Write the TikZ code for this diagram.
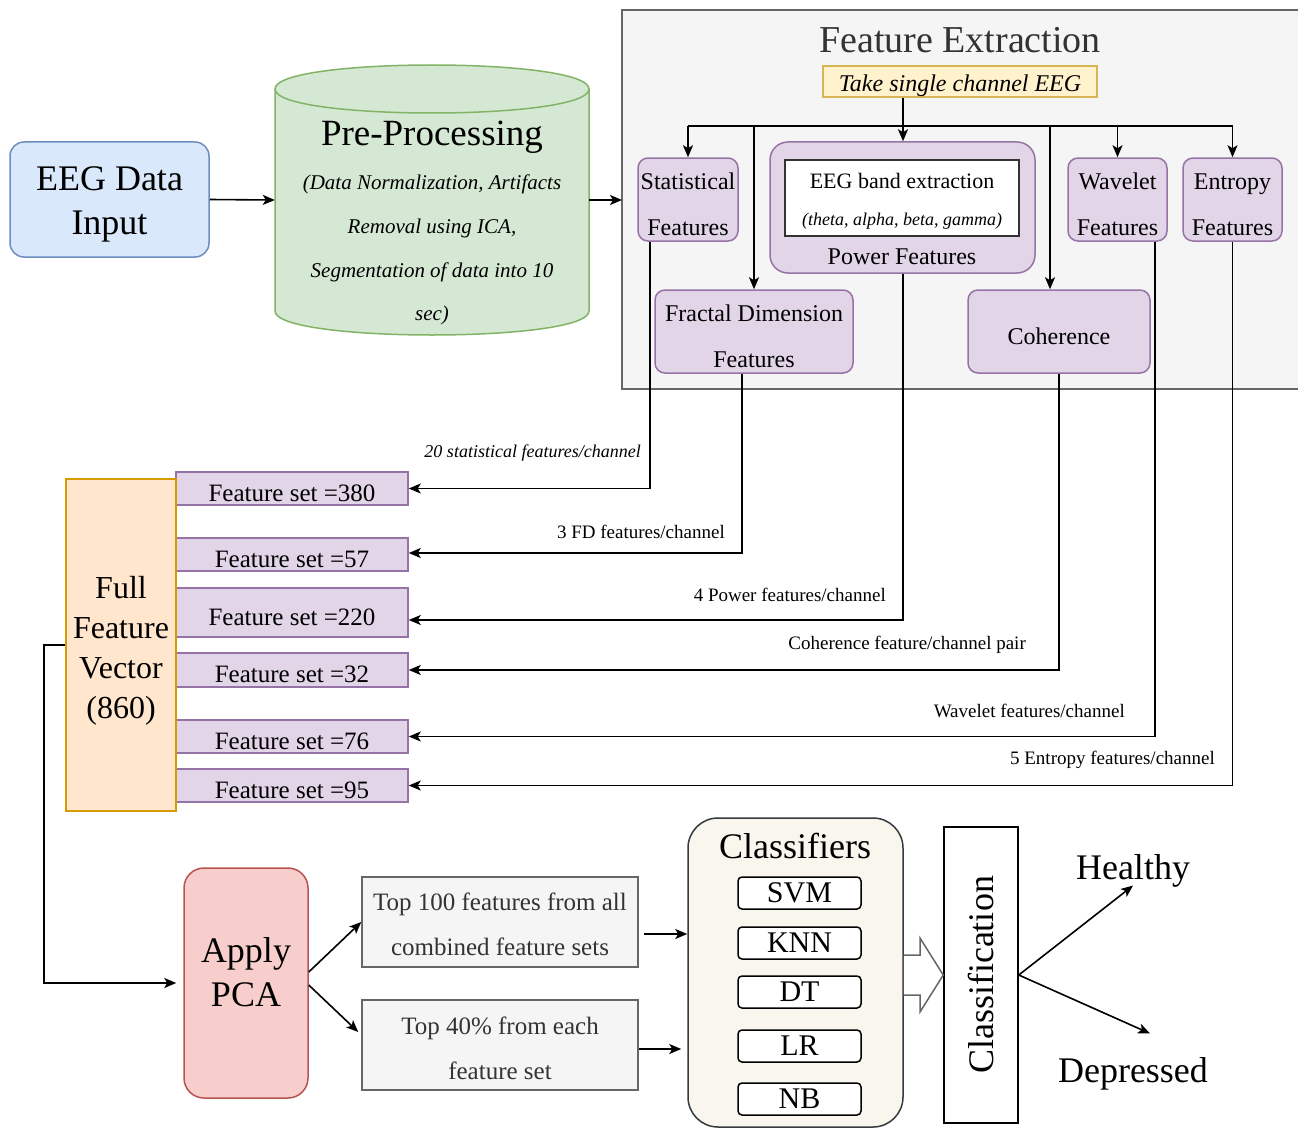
\documentclass[tikz,border=0pt]{standalone}
\usepackage{fontspec}
\setmainfont{Liberation Serif}
\usetikzlibrary{arrows.meta,calc}
\definecolor{bluef}{HTML}{DAE8FC}\definecolor{bluel}{HTML}{6C8EBF}
\definecolor{greenf}{HTML}{D5E8D4}\definecolor{greenl}{HTML}{82B366}
\definecolor{purpf}{HTML}{E1D5E7}\definecolor{purpl}{HTML}{9673A6}
\definecolor{grayf}{HTML}{F5F5F5}\definecolor{grayl}{HTML}{666666}
\definecolor{yelf}{HTML}{FFF2CC}\definecolor{yell}{HTML}{D6B656}
\definecolor{orf}{HTML}{FFE6CC}\definecolor{orl}{HTML}{D79B00}
\definecolor{redf}{HTML}{F8CECC}\definecolor{redl}{HTML}{B85450}
\definecolor{clsf}{HTML}{F9F7ED}\definecolor{clsl}{HTML}{36393D}
\definecolor{txtg}{HTML}{333333}
\newcommand\fsz[2]{\fontsize{#1}{#2}\selectfont}
\newcommand\strutup[1]{\rule{0pt}{#1}}
\newcommand\strutdn[1]{\rule[-#1]{0pt}{#1}}
\tikzset{
  base/.style={inner sep=0pt, align=center, line width=1.5pt},
  purp/.style={base, fill=purpf, draw=purpl, rounded corners=10pt},
  fset/.style={base, fill=purpf, draw=purpl, minimum width=232, text depth=0pt, text height=25pt, font=\fsz{25}{28}},
  gbox/.style={base, fill=grayf, draw=grayl, minimum width=276, minimum height=90, text=txtg, font=\fsz{25}{45}},
  clsitem/.style={base, fill=white, draw=black, rounded corners=4pt, minimum width=123, minimum height=32, font=\fsz{30}{32}},
  conn/.style={line width=1.6pt, black},
  arr/.style={conn, -{Stealth[length=12pt,width=10pt,inset=3pt]}},
  lbl/.style={inner sep=0pt, anchor=east, font=\fsz{19}{22}},
}
\begin{document}
\begin{tikzpicture}[x=1pt,y=-1pt]
\useasboundingbox (0,0) rectangle (1298,1129);
\fill[white] (0,0) rectangle (1298,1129);

% EEG input
\node[base, fill=bluef, draw=bluel, rounded corners=14pt, minimum width=199, minimum height=115, font=\fsz{36}{44}] (eeg) at (109.5,199.5) {\strutup{34pt}EEG Data\\Input};

% Pre-processing cylinder
\node[inner sep=0pt, minimum width=314, minimum height=270] (pp) at (432,200) {};
\path[fill=greenf, draw=greenl, line width=1.5pt]
  (275,89) -- (275,311) .. controls (275,343) and (589,343) .. (589,311) -- (589,89)
  .. controls (589,57) and (275,57) .. (275,89) -- cycle;
\draw[greenl, line width=1.5pt] (275,89) .. controls (275,121) and (589,121) .. (589,89);
\node[inner sep=0pt, font=\fsz{37}{40}] (pptitle) at (432,137) {Pre-Processing};
\node[inner sep=0pt, align=center, font=\fsz{21}{43.7}\itshape] (pptext) at (432,250) {(Data Normalization, Artifacts\\Removal using ICA,\\Segmentation of data into 10\\sec)};

\draw[arr] (eeg.east) -- (pp.west);

% Feature extraction panel
\node[inner sep=0pt, fill=grayf, minimum width=676, minimum height=379, anchor=north west] (febox) at (622,10) {};
\draw[grayl, line width=1.5pt] (1298,10) -- (622,10) -- (622,389) -- (1298,389);
\draw[arr] (pp.east) -- (febox.west |- pp.east);
\node[inner sep=0pt, text=txtg, font=\fsz{38}{40}] (fetitle) at (960,40) {Feature Extraction};
\node[base, fill=yelf, draw=yell, minimum width=274, minimum height=31, font=\fsz{24}{28}\itshape] (take) at (960,81.5) {\strutup{25.5pt}Take single channel EEG};

\node[purp, minimum width=100, minimum height=83, font=\fsz{24}{46}] (stat) at (688,199.5) {\strutup{26.5pt}Statistical\\Features};
\node[purp, rounded corners=18pt, minimum width=265, minimum height=131] (power) at (902.5,207.5) {};
\node[base, fill=white, draw=black!80, line width=2.5pt, minimum width=234, minimum height=76] (band) at (902,198) {};
\node[inner sep=0pt, font=\fsz{22}{26}] (bandt) at (902,181) {EEG band extraction};
\node[inner sep=0pt, font=\fsz{18}{22}\itshape] (bandi) at (902,221) {(theta, alpha, beta, gamma)};
\node[inner sep=0pt, font=\fsz{24}{28}] (powt) at (902,257) {Power Features};
\node[purp, minimum width=99, minimum height=83, font=\fsz{24}{46}] (wave) at (1117.5,199.5) {\strutup{26.5pt}Wavelet\\Features};
\node[purp, minimum width=99, minimum height=83, font=\fsz{24}{46}] (entr) at (1232.5,199.5) {\strutup{26.5pt}Entropy\\Features};
\node[purp, minimum width=198, minimum height=83, font=\fsz{24}{46}] (fract) at (754,331.5) {\strutup{26.5pt}Fractal Dimension\\Features};
\node[purp, minimum width=182, minimum height=83, font=\fsz{24}{28}] (coh) at (1059,331.5) {\strutup{26pt}Coherence};

% bus
\coordinate (bus) at (903,126);
\draw[conn] (take.south -| bus) -- (bus);
\draw[conn] (stat.north |- bus) -- (entr.north |- bus);
\draw[arr] (stat.north |- bus) -- (stat.north);
\draw[arr] (fract.north |- bus) -- (fract.north);
\draw[arr] (bus) -- (bus |- power.north);
\draw[arr] ([xshift=-9pt]coh.north |- bus) -- ([xshift=-9pt]coh.north);
\draw[arr] (wave.north |- bus) -- (wave.north);
\draw[arr] (entr.north |- bus) -- (entr.north);

% feature sets
\node[fset, minimum height=33] (fs380) at (292,488.5) {Feature set =380};
\node[fset, minimum height=33] (fs57) at (292,554.5) {Feature set =57};
\node[fset, minimum height=49] (fs220) at (292,612.5) {Feature set =220};
\node[fset, minimum height=34] (fs32) at (292,670) {Feature set =32};
\node[fset, minimum height=33] (fs76) at (292,736.5) {Feature set =76};
\node[fset, minimum height=33] (fs95) at (292,785.5) {Feature set =95};
\node[base, fill=orf, draw=orl, minimum width=110, minimum height=332, font=\fsz{32}{40}] (ffv) at (121,645) {\strutup{33pt}Full\\Feature\\Vector\\(860)};

\draw[arr] ([xshift=-38pt]stat.south) |- (fs380.east);
\draw[arr] ([xshift=-12pt]fract.south) |- ([yshift=1.5pt]fs57.east);
\draw[arr] (power.south -| bus) |- ([yshift=-7.5pt]fs220.east);
\draw[arr] (coh.south) |- (fs32.east);
\draw[arr] ([xshift=37.5pt]wave.south) |- (fs76.east);
\draw[arr] (entr.south) |- (fs95.east);

\node[lbl, font=\fsz{18}{22}\itshape] (l1) at (641,453) {20 statistical features/channel};
\node[lbl] (l2) at (725,532) {3 FD features/channel};
\node[lbl] (l3) at (886,595) {4 Power features/channel};
\node[lbl] (l4) at (1026,645) {Coherence feature/channel pair};
\node[lbl] (l5) at (1125,711) {Wavelet features/channel};
\node[lbl] (l6) at (1215,760) {5 Entropy features/channel};

% PCA
\node[base, fill=redf, draw=redl, rounded corners=20pt, minimum width=124, minimum height=230, font=\fsz{36}{44}] (pca) at (246,983) {Apply\\PCA\strutdn{22pt}};
\coordinate (c1) at (44,983);
\draw[arr, shorten >=7pt] (ffv.west) -| (c1) -- (pca.west);

\node[gbox] (top100) at (500,922) {\strutup{23pt}Top 100 features from all\\combined feature sets};
\node[gbox] (top40) at (500,1045) {\strutup{25pt}Top 40\% from each\\feature set};
\draw[arr] ([yshift=11pt]pca.east) -- (top100.west);
\draw[arr] ([yshift=-2pt]pca.east) -- ([xshift=-3pt,yshift=13pt]top40.west);

% classifiers
\node[base, fill=clsf, draw=clsl, rounded corners=30pt, minimum width=215, minimum height=309] (cls) at (795.5,972.5) {};
\node[inner sep=0pt, font=\fsz{36}{40}] (clst) at (795,846) {Classifiers};
\node[clsitem] (svm) at (799.5,893) {SVM};
\node[clsitem] (knn) at (799.5,943) {KNN};
\node[clsitem] (dt) at (799.5,992) {DT};
\node[clsitem] (lr) at (799.5,1046) {LR};
\node[clsitem] (nb) at (799.5,1099) {NB};

\draw[arr] ([xshift=5pt,yshift=-12pt]top100.east) coordinate (t1) -- (t1 -| cls.west);
\draw[arr, shorten >=6pt] ([yshift=-4pt]top40.east) coordinate (t2) -- (t2 -| cls.west);

% classification
\node[base, fill=white, draw=black, minimum width=74, minimum height=296] (clf) at (981,975) {\rotatebox{90}{\fsz{36}{40}Classification}};
\path[fill=white, draw=grayl, line width=1.5pt] (cls.east |- 0,955) -- (920,955) -- (920,938) -- (clf.west) -- (920,1012) -- (920,995) -- (cls.east |- 0,995);

\node[inner sep=0pt, font=\fsz{36}{40}] (healthy) at (1133,871) {Healthy};
\node[inner sep=0pt, font=\fsz{36}{40}] (dep) at (1133,1074) {Depressed};
\draw[arr] (clf.east) -- ([yshift=2pt]healthy.south);
\draw[arr] (clf.east) -- ([xshift=17pt,yshift=24pt]dep.north);
\end{tikzpicture}
\end{document}
